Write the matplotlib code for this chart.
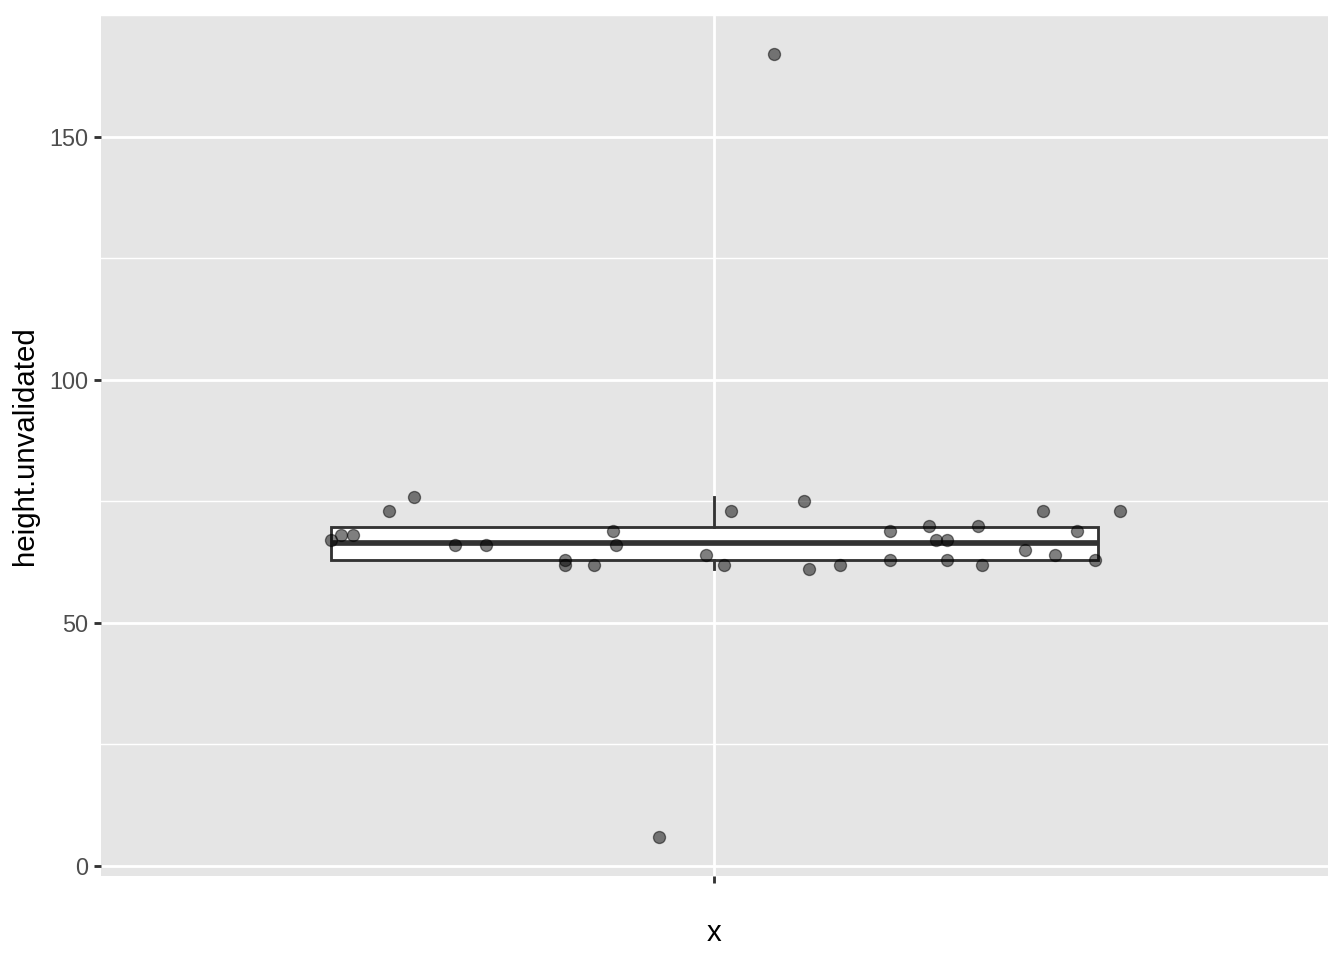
import numpy as np
import matplotlib
matplotlib.use("Agg")
import matplotlib.pyplot as plt
from matplotlib.ticker import MultipleLocator

plt.rcParams['font.family'] = ['Liberation Sans', 'DejaVu Sans']

# heights
heights = [67, 68, 68, 73, 76, 66, 66, 63, 62, 62, 69, 66, 64, 62,
           73, 75, 61, 62, 69, 63, 70, 67, 67, 63, 70, 62, 65, 73, 64, 69, 63, 73,
           167, 6]
# horizontal jitter offsets
jitter_x = [-0.375, -0.365, -0.354, -0.318, -0.294, -0.254, -0.223, -0.146, -0.146,
            -0.118, -0.099, -0.096, -0.008, 0.009,
            0.016, 0.088, 0.092, 0.123, 0.172, 0.172, 0.210, 0.217, 0.227, 0.227,
            0.258, 0.262, 0.304, 0.321, 0.333, 0.355, 0.372, 0.397,
            0.058, -0.054]
category = ""
y_ticks = [0, 50, 100, 150]
y_label = "height.unvalidated"
x_label = "x"

fig = plt.figure(figsize=(7, 5), dpi=192)
ax = fig.add_axes([101/1344, 1 - 876/960, (1328-101)/1344, (876-15)/960])
ax.set_facecolor('#E5E5E5')

lw = 0.5 * 72.27 / 25.4 * 0.75
ax.boxplot([heights], positions=[1], widths=0.75, showfliers=False, showcaps=False,
           patch_artist=True, whis=1.5,
           boxprops=dict(facecolor='white', edgecolor='#333333', linewidth=lw),
           whiskerprops=dict(color='#333333', linewidth=lw),
           medianprops=dict(color='#333333', linewidth=lw * 2),
           zorder=3)

xs = 1 + np.array(jitter_x)
ax.scatter(xs, heights, s=4.5**2, facecolor=(0, 0, 0, 0.5), edgecolor=(0, 0, 0, 0.5),
           linewidths=0.5, zorder=4)

rng = max(heights) - min(heights)
ax.set_ylim(min(heights) - 0.05 * rng, max(heights) + 0.05 * rng)
ax.set_xlim(0.4, 1.6)
ax.set_yticks(y_ticks)
ax.yaxis.set_minor_locator(MultipleLocator(25))
ax.set_xticks([1])
ax.set_xticklabels([category])

ax.grid(which='major', color='white', linewidth=lw)
ax.grid(which='minor', axis='y', color='white', linewidth=lw / 2)
ax.set_axisbelow(True)
for s in ax.spines.values():
    s.set_visible(False)

ax.tick_params(axis='both', which='major', length=2.75, width=lw, color='#333333',
               labelcolor='#4D4D4D', labelsize=8.8, pad=2.2)
ax.tick_params(axis='y', which='minor', length=0)
ax.set_ylabel(y_label, fontsize=11, color='black', labelpad=3.5)
ax.set_xlabel(x_label, fontsize=11, color='black', labelpad=11)

fig.savefig("out.png", dpi=192, facecolor='white')
